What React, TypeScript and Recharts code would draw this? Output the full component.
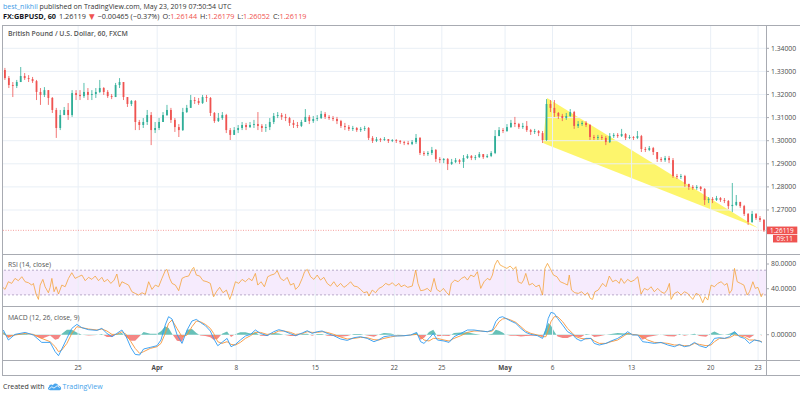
import React from "react";
import { ComposedChart, LineChart, Line, Bar, Area, XAxis, YAxis, ReferenceLine, ReferenceArea } from "recharts";

const FONT = "'Open Sans', 'Noto Sans', 'DejaVu Sans', sans-serif";
const UP = "#2fae98";
const DOWN = "#ef5350";
const GRID = "#e9eff6";
const BORDER = "#a8abb2";
const TEXT = "#4a4a4a";

// ---- price data: 6-hour candles, GBPUSD, from Mar 18 06:00 to May 23 08:00 ----
// time unit: trading days since Mar 18 00:00 (weekends removed)
const firstOpen = 1.3306;
const barsPerDay = 4;
const firstBarStart = 0.25;
const closes = [
  1.3271, 1.3241, 1.3237,
  1.3254, 1.3280, 1.3271, 1.3267,
  1.3258, 1.3211, 1.3198, 1.3219,
  1.3185, 1.3133, 1.3055, 1.3111,
  1.3133, 1.3111, 1.3206, 1.3198,
  1.3193, 1.3211, 1.3198, 1.3202,
  1.3211, 1.3228, 1.3211, 1.3193,
  1.3189, 1.3241, 1.3254, 1.3189,
  1.3159, 1.3172, 1.3081, 1.3068,
  1.3081, 1.3111, 1.3046, 1.3055,
  1.3081, 1.3111, 1.3133, 1.3090,
  1.3059, 1.3046, 1.3124, 1.3142,
  1.3176, 1.3172, 1.3163, 1.3189,
  1.3185, 1.3120, 1.3085, 1.3098,
  1.3111, 1.3046, 1.3025, 1.3046,
  1.3055, 1.3068, 1.3059, 1.3068,
  1.3072, 1.3064, 1.3055, 1.3059,
  1.3081, 1.3107, 1.3111, 1.3103,
  1.3098, 1.3077, 1.3068, 1.3064,
  1.3081, 1.3103, 1.3085, 1.3094,
  1.3098, 1.3116, 1.3103, 1.3098,
  1.3094, 1.3085, 1.3064, 1.3059,
  1.3051, 1.3055, 1.3046, 1.3051,
  1.3055, 1.3012, 1.2999, 1.3007,
  1.3003, 1.3007, 1.2999, 1.3003,
  1.2999, 1.2994, 1.2990, 1.2986,
  1.2994, 1.3012, 1.2947, 1.2942,
  1.2947, 1.2960, 1.2921, 1.2916,
  1.2921, 1.2899, 1.2908, 1.2916,
  1.2908, 1.2925, 1.2934, 1.2925,
  1.2929, 1.2942, 1.2929, 1.2934,
  1.2947, 1.3020, 1.3046, 1.3042,
  1.3059, 1.3077, 1.3072, 1.3059,
  1.3064, 1.3046, 1.3038, 1.3042,
  1.3033, 1.3003, 1.3159, 1.3142,
  1.3120, 1.3107, 1.3098, 1.3107,
  1.3124, 1.3064, 1.3072, 1.3077,
  1.3068, 1.3016, 1.3012, 1.3016,
  1.3012, 1.2994, 1.3020, 1.3025,
  1.3020, 1.3029, 1.3012, 1.3016,
  1.3012, 1.3020, 1.2964, 1.2960,
  1.2968, 1.2951, 1.2921, 1.2916,
  1.2925, 1.2916, 1.2847, 1.2843,
  1.2847, 1.2813, 1.2800, 1.2795,
  1.2800, 1.2791, 1.2743, 1.2748,
  1.2743, 1.2752, 1.2743, 1.2739,
  1.2717, 1.2722, 1.2735, 1.2717,
  1.2683, 1.2648, 1.2683, 1.2665,
  1.2657, 1.26119,
];
const highs = [
  1.3315, 1.3280, 1.3254,
  1.3263, 1.3319, 1.3293, 1.3284,
  1.3276, 1.3263, 1.3228, 1.3232,
  1.3219, 1.3189, 1.3142, 1.3133,
  1.3146, 1.3163, 1.3219, 1.3219,
  1.3219, 1.3250, 1.3228, 1.3219,
  1.3228, 1.3263, 1.3232, 1.3219,
  1.3202, 1.3250, 1.3271, 1.3254,
  1.3189, 1.3176, 1.3176, 1.3090,
  1.3098, 1.3133, 1.3124, 1.3081,
  1.3098, 1.3124, 1.3155, 1.3142,
  1.3098, 1.3072, 1.3142, 1.3155,
  1.3198, 1.3189, 1.3185, 1.3198,
  1.3198, 1.3189, 1.3124, 1.3120,
  1.3124, 1.3116, 1.3055, 1.3059,
  1.3068, 1.3081, 1.3077, 1.3081,
  1.3090, 1.3124, 1.3072, 1.3072,
  1.3098, 1.3120, 1.3124, 1.3120,
  1.3116, 1.3103, 1.3090, 1.3081,
  1.3090, 1.3137, 1.3111, 1.3107,
  1.3111, 1.3129, 1.3124, 1.3111,
  1.3107, 1.3103, 1.3090, 1.3077,
  1.3068, 1.3064, 1.3059, 1.3059,
  1.3064, 1.3059, 1.3020, 1.3016,
  1.3012, 1.3016, 1.3007, 1.3007,
  1.3007, 1.3003, 1.2999, 1.2999,
  1.3003, 1.3029, 1.3016, 1.2955,
  1.2955, 1.2973, 1.2964, 1.2929,
  1.2925, 1.2925, 1.2921, 1.2925,
  1.2921, 1.2938, 1.2942, 1.2938,
  1.2938, 1.2951, 1.2942, 1.2942,
  1.2955, 1.3046, 1.3059, 1.3055,
  1.3072, 1.3090, 1.3103, 1.3077,
  1.3077, 1.3085, 1.3051, 1.3051,
  1.3046, 1.3042, 1.3180, 1.3176,
  1.3176, 1.3124, 1.3116, 1.3120,
  1.3137, 1.3129, 1.3085, 1.3085,
  1.3085, 1.3072, 1.3025, 1.3025,
  1.3025, 1.3020, 1.3033, 1.3033,
  1.3033, 1.3051, 1.3033, 1.3025,
  1.3020, 1.3042, 1.3025, 1.2973,
  1.2977, 1.2973, 1.2951, 1.2929,
  1.2934, 1.2934, 1.2925, 1.2856,
  1.2856, 1.2852, 1.2813, 1.2808,
  1.2808, 1.2804, 1.2795, 1.2756,
  1.2756, 1.2761, 1.2756, 1.2752,
  1.2743, 1.2817, 1.2765, 1.2735,
  1.2722, 1.2687, 1.2696, 1.2687,
  1.2674, 1.2661,
];
const lows = [
  1.3263, 1.3228, 1.3189,
  1.3228, 1.3254, 1.3263, 1.3254,
  1.3250, 1.3176, 1.3155, 1.3189,
  1.3155, 1.3120, 1.3012, 1.3046,
  1.3111, 1.3090, 1.3103, 1.3176,
  1.3176, 1.3185, 1.3176, 1.3176,
  1.3185, 1.3206, 1.3198, 1.3185,
  1.3180, 1.3189, 1.3228, 1.3176,
  1.3146, 1.3150, 1.3046, 1.3046,
  1.3055, 1.3068, 1.2981, 1.3033,
  1.3046, 1.3081, 1.3107, 1.3077,
  1.3038, 1.3016, 1.3042, 1.3120,
  1.3142, 1.3159, 1.3155, 1.3159,
  1.3168, 1.3107, 1.3077, 1.3081,
  1.3090, 1.3033, 1.3003, 1.3025,
  1.3033, 1.3046, 1.3046, 1.3055,
  1.3055, 1.3046, 1.3038, 1.3038,
  1.3046, 1.3072, 1.3098, 1.3090,
  1.3085, 1.3064, 1.3055, 1.3055,
  1.3059, 1.3081, 1.3072, 1.3077,
  1.3085, 1.3094, 1.3094, 1.3090,
  1.3085, 1.3072, 1.3055, 1.3046,
  1.3042, 1.3042, 1.3038, 1.3038,
  1.3042, 1.3003, 1.2990, 1.2994,
  1.2994, 1.2999, 1.2990, 1.2994,
  1.2990, 1.2986, 1.2981, 1.2981,
  1.2981, 1.2986, 1.2938, 1.2934,
  1.2934, 1.2938, 1.2908, 1.2903,
  1.2903, 1.2873, 1.2895, 1.2903,
  1.2899, 1.2882, 1.2921, 1.2916,
  1.2916, 1.2925, 1.2921, 1.2925,
  1.2929, 1.2942, 1.3020, 1.3033,
  1.3038, 1.3055, 1.3059, 1.3051,
  1.3051, 1.3038, 1.3025, 1.3029,
  1.3020, 1.2990, 1.2999, 1.3124,
  1.3103, 1.3094, 1.3085, 1.3090,
  1.3103, 1.3051, 1.3055, 1.3064,
  1.3059, 1.3003, 1.3003, 1.3003,
  1.3003, 1.2981, 1.2990, 1.3012,
  1.3012, 1.3016, 1.3003, 1.3007,
  1.3003, 1.3007, 1.2951, 1.2951,
  1.2955, 1.2938, 1.2908, 1.2908,
  1.2908, 1.2903, 1.2839, 1.2834,
  1.2834, 1.2800, 1.2787, 1.2787,
  1.2787, 1.2782, 1.2722, 1.2730,
  1.2730, 1.2739, 1.2735, 1.2730,
  1.2704, 1.2691, 1.2717, 1.2709,
  1.2674, 1.2635, 1.2644, 1.2657,
  1.2648, 1.2605,
];
const lastPrice = 1.26119;
const countdown = "09:11";

const priceTicks = [1.27, 1.28, 1.29, 1.3, 1.31, 1.32, 1.33, 1.34];
const dayTicks = [5, 10, 15, 20, 25, 28, 32, 35, 40, 45, 48];
const dayLabels = ["25", "Apr", "8", "15", "22", "25", "May", "6", "13", "20", "23"];

// yellow wedge drawing: [time, lower, upper]
const wedgePoints: [number, number, number][] = [
  [34.41, 1.299, 1.299],
  [34.66, 1.2983, 1.3185],
  [48.0, 1.2622, 1.2622],
];

// RSI (14, close): [time, value]
const rsiSeries: [number, number][] = [
  [0.25, 42], [0.38, 38.9], [0.59, 51.3], [0.8, 48.6], [1.01, 56.7], [1.22, 53.0], [1.44, 59.4], [1.65, 51.3],
  [1.86, 49.7], [2.07, 45.9], [2.17, 48.6], [2.34, 31.4], [2.49, 22.7], [2.6, 45.9], [2.77, 55.1], [2.91, 43.2],
  [3.12, 33.5], [3.23, 42.2], [3.34, 56.7], [3.48, 35.1], [3.61, 43.2], [3.76, 31.4], [3.97, 45.9], [4.18, 43.2],
  [4.39, 56.7], [4.6, 65.9], [4.81, 56.7], [5.02, 59.4], [5.24, 62.1], [5.45, 53.0], [5.66, 58.4], [5.87, 55.1],
  [6.08, 60.5], [6.29, 53.0], [6.5, 58.4], [6.65, 51.3], [6.86, 55.1], [7.07, 48.6], [7.28, 54.0], [7.45, 63.8],
  [7.62, 43.2], [7.77, 51.3], [7.98, 48.6], [8.19, 45.9], [8.4, 35.1], [8.61, 32.4], [8.82, 29.7], [9.04, 33.5],
  [9.25, 30.8], [9.46, 51.3], [9.67, 38.9], [9.88, 45.9], [10.09, 43.2], [10.3, 56.7], [10.51, 69.2], [10.62, 71.3],
  [10.79, 56.7], [10.94, 48.6], [11.15, 45.9], [11.36, 36.8], [11.57, 56.7], [11.78, 59.4], [11.99, 60.5], [12.2, 71.3],
  [12.31, 74.6], [12.48, 62.1], [12.69, 60.5], [12.9, 53.0], [13.15, 51.3], [13.36, 48.6], [13.57, 27.0], [13.74, 35.1],
  [13.95, 42.2], [14.16, 33.5], [14.38, 37.8], [14.59, 22.7], [14.73, 32.4], [14.95, 51.3], [15.16, 48.6], [15.37, 55.1],
  [15.58, 51.3], [15.79, 56.7], [16.0, 53.0], [16.21, 64.8], [16.36, 45.9], [16.57, 51.3], [16.78, 43.2], [16.99, 59.4],
  [17.2, 62.1], [17.42, 63.8], [17.59, 69.2], [17.8, 56.7], [18.01, 53.0], [18.22, 58.4], [18.43, 45.9], [18.64, 48.6],
  [18.75, 38.9], [18.96, 44.3], [19.17, 56.7], [19.32, 67.5], [19.49, 71.3], [19.7, 59.4], [19.91, 55.1], [20.12, 62.1],
  [20.33, 54.0], [20.54, 58.4], [20.75, 48.6], [20.96, 44.3], [21.17, 51.3], [21.38, 43.2], [21.6, 48.6], [21.81, 42.2],
  [22.02, 45.9], [22.23, 51.3], [22.44, 44.3], [22.65, 43.2], [22.86, 38.9], [23.07, 33.5], [23.28, 35.1], [23.39, 28.1],
  [23.6, 37.8], [23.81, 33.5], [24.02, 40.5], [24.23, 43.2], [24.45, 48.6], [24.66, 45.9], [24.87, 49.7], [25.08, 44.3],
  [25.29, 48.6], [25.42, 43.2], [25.63, 45.9], [25.84, 42.2], [26.13, 44.3], [26.35, 70.2], [26.49, 48.6], [26.66, 36.8],
  [26.87, 37.8], [27.08, 40.5], [27.3, 35.1], [27.51, 56.7], [27.68, 38.9], [27.89, 35.1], [28.1, 40.5], [28.31, 33.5],
  [28.46, 29.7], [28.6, 48.6], [28.82, 54.0], [29.03, 51.3], [29.24, 56.7], [29.45, 59.4], [29.62, 54.0], [29.83, 62.1],
  [30.04, 59.4], [30.25, 67.5], [30.46, 40.5], [30.67, 51.3], [30.88, 56.7], [31.05, 54.0], [31.2, 62.1], [31.35, 78.3],
  [31.52, 86.4], [31.69, 78.3], [31.9, 75.6], [32.11, 72.9], [32.32, 76.7], [32.53, 71.3], [32.68, 75.6], [32.83, 51.3],
  [33.04, 48.6], [33.17, 54.0], [33.31, 64.8], [33.52, 45.9], [33.73, 48.6], [33.95, 43.2], [34.16, 45.9], [34.37, 29.7],
  [34.52, 72.9], [34.68, 81.0], [34.85, 72.9], [35.06, 62.1], [35.28, 59.4], [35.49, 51.3], [35.74, 48.6], [35.95, 45.9],
  [36.06, 62.1], [36.2, 37.8], [36.41, 33.5], [36.63, 32.4], [36.84, 35.1], [37.05, 29.7], [37.22, 33.5], [37.39, 24.3],
  [37.53, 22.7], [37.68, 35.1], [37.89, 37.8], [38.17, 48.6], [38.38, 43.2], [38.59, 60.5], [38.8, 51.3], [39.01, 54.0],
  [39.22, 48.6], [39.33, 56.7], [39.54, 48.6], [39.75, 55.1], [39.96, 51.3], [40.17, 54.0], [40.39, 59.4], [40.6, 31.4],
  [40.81, 40.5], [41.02, 37.8], [41.23, 43.2], [41.44, 35.1], [41.65, 40.5], [41.86, 35.1], [42.07, 32.4], [42.24, 37.8],
  [42.39, 48.6], [42.5, 22.7], [42.71, 32.4], [42.92, 35.1], [43.13, 29.7], [43.34, 35.1], [43.55, 32.4], [43.72, 27.0],
  [43.87, 22.7], [44.08, 32.4], [44.29, 29.7], [44.5, 17.3], [44.65, 27.0], [44.82, 21.6], [45.03, 45.9], [45.24, 43.2],
  [45.45, 48.6], [45.66, 51.3], [45.88, 45.9], [46.04, 48.6], [46.19, 32.4], [46.34, 37.8], [46.51, 72.9], [46.68, 51.3],
  [46.89, 48.6], [47.1, 45.9], [47.31, 29.7], [47.46, 35.1], [47.67, 51.3], [47.82, 40.5], [47.99, 42.2], [48.2, 27.0],
  [48.3, 32.4],
];
const rsiTicks = [40, 80];
const rsiUpper = 70;
const rsiLower = 30;

// MACD (12, 26, close, 9): [time, macd, signal]
const macdSeries: [number, number, number][] = [
  [0.27, 0.00047, 0.00013], [0.59, -0.00053, -0.0002], [1.01, 0.00003, -0.00003], [1.65, 0.00023, 0.00013],
  [2.17, -0.00003, 0.00003], [2.7, -0.00077, -0.00037], [3.23, -0.00077, -0.0007], [3.55, -0.0017, -0.0012],
  [3.76, -0.0021, -0.0017], [3.97, -0.00143, -0.00153], [4.29, -0.00037, -0.00087], [4.6, 0.00063, 0.00013],
  [4.92, 0.00103, 0.0008], [5.24, 0.0007, 0.0007], [5.66, 0.0005, 0.00057], [6.19, 0.00043, 0.00047],
  [6.5, 0.00063, 0.00057], [6.82, 0.00013, 0.00037], [7.14, -0.0002, 0.00003], [7.45, 0.00013, 0.00003],
  [7.77, 0.00047, 0.0003], [8.04, -0.0002, 0.00003], [8.34, -0.0013, -0.0007], [8.61, -0.00197, -0.00137],
  [8.89, -0.00203, -0.00187], [9.14, -0.00143, -0.0017], [9.56, -0.00127, -0.00137], [9.99, -0.0011, -0.0012],
  [10.24, -0.00053, -0.00087], [10.51, 0.00097, 0.00013], [10.72, 0.0018, 0.00113], [10.94, 0.00157, 0.00147],
  [11.25, 0.00003, 0.00063], [11.57, -0.00087, -0.0002], [11.89, 0.00047, -0.00003], [12.2, 0.00137, 0.0008],
  [12.48, 0.00153, 0.00137], [12.73, 0.00123, 0.0013], [13.05, 0.0009, 0.00103], [13.36, 0.00037, 0.00063],
  [13.57, -0.00037, 0.00013], [13.83, -0.0011, -0.0007], [14.1, -0.00077, -0.00087], [14.42, -0.00037, -0.0007],
  [14.67, -0.0012, -0.00097], [14.95, -0.00097, -0.00103], [15.26, -0.00053, -0.00077], [15.58, -0.00013, -0.00037],
  [15.9, 0.00003, -0.0001], [16.21, 0.00047, 0.00023], [16.53, 0.00013, 0.00023], [16.95, -0.0001, 0.00003],
  [17.37, 0.0003, 0.00013], [17.69, 0.0005, 0.00037], [18.01, 0.00037, 0.00037], [18.43, 0.0001, 0.00023],
  [18.75, -0.0001, 0.00003], [19.17, 0.00017, 0.0001], [19.49, 0.0004, 0.0003], [19.8, 0.00013, 0.00023],
  [20.12, 0.0003, 0.00023], [20.43, 0.00037, 0.0003], [20.75, 0.00013, 0.00023], [21.17, -0.0001, 0.00003],
  [21.6, -0.00043, -0.00023], [22.02, -0.00057, -0.00043], [22.44, -0.0003, -0.00037], [22.86, -0.0002, -0.00027],
  [23.28, -0.00037, -0.0003], [23.71, -0.0007, -0.0005], [24.02, -0.0005, -0.00053], [24.34, -0.0002, -0.00037],
  [24.76, -0.0001, -0.00023], [25.18, -0.00013, -0.0001], [25.61, -0.0001, -0.0001], [26.03, -0.00003, -0.00003],
  [26.41, 0.00023, 0.00003], [26.66, -0.0007, -0.0002], [26.87, -0.00087, -0.00053], [27.19, -0.00037, -0.00063],
  [27.46, 0.00013, -0.00037], [27.72, -0.00053, -0.00037], [28.14, -0.00063, -0.00053], [28.46, -0.00077, -0.00063],
  [28.77, -0.0002, -0.00037], [29.2, 0.00013, -0.0001], [29.62, 0.00047, 0.00023], [30.04, 0.00047, 0.00037],
  [30.46, 0.00037, 0.00037], [30.88, 0.0003, 0.0003], [31.2, 0.00047, 0.00037], [31.41, 0.0013, 0.0008],
  [31.62, 0.0017, 0.0013], [31.84, 0.0018, 0.00157], [32.05, 0.00163, 0.00163], [32.36, 0.00137, 0.00147],
  [32.68, 0.00113, 0.00123], [33.0, 0.00063, 0.0008], [33.31, 0.00023, 0.00037], [33.63, 0.00003, 0.00013],
  [34.05, -0.0001, -0.00003], [34.37, -0.00037, -0.0002], [34.58, 0.00047, -0.0002], [34.73, 0.00163, 0.00047],
  [34.9, 0.00223, 0.0013], [35.11, 0.00213, 0.0018], [35.32, 0.00163, 0.0018], [35.64, 0.00097, 0.0013],
  [35.95, 0.0003, 0.00063], [36.27, 0.00003, 0.00013], [36.48, -0.00037, -0.0002], [36.8, -0.00063, -0.00037],
  [37.11, -0.00037, -0.00043], [37.43, -0.00037, -0.00037], [37.64, -0.00087, -0.00063], [37.96, -0.00103, -0.00087],
  [38.38, -0.00087, -0.00087], [38.7, -0.00063, -0.0007], [39.12, -0.00037, -0.00053], [39.54, 0.00003, -0.0001],
  [39.75, 0.0003, 0.00013], [40.07, -0.00003, 0.00003], [40.39, -0.00003, -0.00003], [40.7, -0.0007, -0.0002],
  [41.02, -0.00077, -0.00053], [41.44, -0.00087, -0.00077], [41.86, -0.00077, -0.0008], [42.29, -0.00103, -0.00087],
  [42.71, -0.0012, -0.00103], [43.02, -0.00097, -0.00103], [43.34, -0.0012, -0.0011], [43.66, -0.0011, -0.0011],
  [43.98, -0.00077, -0.00087], [44.29, -0.0011, -0.00097], [44.71, -0.0013, -0.0011], [45.03, -0.00087, -0.00103],
  [45.24, -0.00037, -0.0007], [45.56, -0.0003, -0.00037], [45.88, -0.00037, -0.00037], [46.19, -0.0002, -0.0003],
  [46.51, 0.0003, -0.00003], [46.82, -0.0002, -0.0001], [47.14, -0.00037, -0.00023], [47.46, -0.00087, -0.00053],
  [47.77, -0.00053, -0.00053], [48.09, -0.00063, -0.00063], [48.24, -0.00077, -0.0007],
];
const macdTicks = [0];

// ---- tables for the library ----
const candles = closes.map((c, i) => {
  const o = i === 0 ? firstOpen : closes[i - 1];
  return { t: firstBarStart + (i + 0.5) / barsPerDay, o, c, h: highs[i], l: lows[i], range: [lows[i], highs[i]] };
});
const wedgeData = wedgePoints.map(([t, lo, hi]) => ({ t, band: [lo, hi] }));
const rsiData = rsiSeries.map(([t, v]) => ({ t, v }));
const macdData = macdSeries.map(([t, m, s]) => ({ t, macd: m, signal: s, hist: m - s }));
const histMax = Math.max(...macdData.map((d) => d.hist));
const histMin = Math.min(...macdData.map((d) => d.hist));
const histOff = histMax / (histMax - histMin);

const X_DOMAIN: [number, number] = [0.25, 48.5];
const PRICE_DOMAIN: [number, number] = [1.250952, 1.349654];
const RSI_DOMAIN: [number, number] = [12.0, 94.6];
const MACD_DOMAIN: [number, number] = [-0.00253, 0.00277];

const CHART_W = 797;
const AXIS_W = 34;
const axisTick = { fontSize: 6.8, fill: TEXT, fontFamily: FONT };

const Candle = (props: any) => {
  const { x, y, width, height, payload } = props;
  if (!payload || height == null || isNaN(y)) return null;
  const top = Math.min(y, y + height);
  const h = Math.abs(height);
  const span = payload.h - payload.l;
  const k = span > 0 ? h / span : 0;
  const yo = top + (payload.h - payload.o) * k;
  const yc = top + (payload.h - payload.c) * k;
  const color = payload.c >= payload.o ? UP : DOWN;
  const cx = x + width / 2;
  const bw = 1.8;
  return (
    <g>
      <line x1={cx} x2={cx} y1={top} y2={top + h} stroke={color} strokeWidth={0.8} />
      <rect x={cx - bw / 2} y={Math.min(yo, yc)} width={bw} height={Math.max(0.8, Math.abs(yc - yo))} fill={color} />
    </g>
  );
};

const LastLabel = (props: any) => {
  const vb = props.viewBox;
  if (!vb) return null;
  const x = vb.x + vb.width;
  const y = vb.y;
  return (
    <g fontFamily={FONT}>
      <rect x={x + 0.8} y={y - 3.8} width={30.5} height={7.6} fill={DOWN} />
      <text x={x + 4} y={y} dy="0.35em" fontSize={6.4} fill="#fff">{lastPrice.toFixed(5)}</text>
      <rect x={x + 7} y={y + 4.5} width={24.3} height={7.6} fill={DOWN} />
      <text x={x + 10.5} y={y + 8.3} dy="0.35em" fontSize={6.4} fill="#fff">{countdown}</text>
    </g>
  );
};

const DayTick = (props: any) => {
  const { x, y, payload } = props;
  const idx = dayTicks.indexOf(payload.value);
  const label = idx >= 0 ? dayLabels[idx] : "";
  const bold = label === "Apr" || label === "May";
  return (
    <text x={x} y={y} dy="0.71em" textAnchor="middle" fontSize={6.4} fontWeight={bold ? 700 : 400} fill={TEXT} fontFamily={FONT}>
      {label}
    </text>
  );
};

const hLine = (top: number, left = 2, width = 798) => (
  <div style={{ position: "absolute", left, top, width, height: 1, background: BORDER }} />
);

const gap = { marginLeft: 3 };

export default function App() {
  return (
    <div style={{ position: "absolute", left: 0, top: 0, width: 800, height: 396, background: "#fff", fontFamily: FONT, overflow: "hidden" }}>
      {/* header */}
      <div style={{ position: "absolute", left: 3, top: 1.5, fontSize: 7, lineHeight: "9px", color: "#333", whiteSpace: "nowrap" }}>
        <span style={{ color: "#3d9be6" }}>best_nikhil</span> published on TradingView.com, May 23, 2019 07:50:54 UTC
      </div>
      <div style={{ position: "absolute", left: 3, top: 11.5, fontSize: 7.3, lineHeight: "9px", color: "#333", whiteSpace: "nowrap" }}>
        <b style={{ color: "#131722" }}>FX:GBPUSD, 60</b>
        <span style={gap}>1.26119</span>
        <span style={{ color: DOWN, marginLeft: 3 }}>▼</span>
        <span style={gap}>−0.00465 (−0.37%)</span>
        <span style={gap}>O:</span><span style={{ color: DOWN }}>1.26144</span>
        <span style={gap}>H:</span><span style={{ color: DOWN }}>1.26179</span>
        <span style={gap}>L:</span><span style={{ color: DOWN }}>1.26052</span>
        <span style={gap}>C:</span><span style={{ color: DOWN }}>1.26119</span>
      </div>

      {/* price panel: grid, wedge, last price line */}
      <div style={{ position: "absolute", left: 3, top: 26 }}>
        <ComposedChart width={CHART_W} height={228} margin={{ top: 0, right: AXIS_W, bottom: 0, left: 0 }}>
          <XAxis type="number" dataKey="t" domain={X_DOMAIN} hide allowDataOverflow />
          <YAxis type="number" domain={PRICE_DOMAIN} hide allowDataOverflow />
          {priceTicks.map((p) => (
            <ReferenceLine key={"hp" + p} y={p} stroke={GRID} strokeWidth={1} />
          ))}
          {dayTicks.map((d) => (
            <ReferenceLine key={"vp" + d} x={d} stroke={GRID} strokeWidth={1} />
          ))}
          <Area data={wedgeData} dataKey="band" type="linear" stroke="none" fill="#fdf45c" fillOpacity={0.9} isAnimationActive={false} />
          <ReferenceLine y={lastPrice} stroke={DOWN} strokeOpacity={0.55} strokeDasharray="1 1.5" label={<LastLabel />} />
        </ComposedChart>
      </div>
      {/* price panel: candles + price axis */}
      <div style={{ position: "absolute", left: 3, top: 26 }}>
        <ComposedChart width={CHART_W} height={228} data={candles} margin={{ top: 0, right: 0, bottom: 0, left: 0 }}>
          <XAxis dataKey="t" type="category" hide />
          <YAxis
            orientation="right"
            width={AXIS_W}
            type="number"
            domain={PRICE_DOMAIN}
            allowDataOverflow
            ticks={priceTicks}
            interval={0}
            tickFormatter={(v: number) => v.toFixed(5)}
            tick={axisTick}
            tickSize={3}
            tickMargin={2}
            axisLine={false}
            tickLine={{ stroke: BORDER }}
          />
          <Bar dataKey="range" isAnimationActive={false} shape={(p: any) => <Candle {...p} />} />
        </ComposedChart>
      </div>

      {/* RSI panel */}
      <div style={{ position: "absolute", left: 3, top: 255 }}>
        <LineChart width={CHART_W} height={51} data={rsiData} margin={{ top: 0, right: 0, bottom: 0, left: 0 }}>
          <XAxis type="number" dataKey="t" domain={X_DOMAIN} hide allowDataOverflow />
          <YAxis
            orientation="right"
            width={AXIS_W}
            type="number"
            domain={RSI_DOMAIN}
            allowDataOverflow
            ticks={rsiTicks}
            interval={0}
            tickFormatter={(v: number) => v.toFixed(4)}
            tick={axisTick}
            tickSize={3}
            tickMargin={2}
            axisLine={false}
            tickLine={{ stroke: BORDER }}
          />
          <ReferenceArea y1={rsiLower} y2={rsiUpper} fill="#9b1fe8" fillOpacity={0.09} stroke="none" />
          {dayTicks.map((d) => (
            <ReferenceLine key={"vr" + d} x={d} stroke={GRID} strokeWidth={1} />
          ))}
          <ReferenceLine y={rsiUpper} stroke="#b9aacb" strokeDasharray="2 2" />
          <ReferenceLine y={rsiLower} stroke="#b9aacb" strokeDasharray="2 2" />
          <Line dataKey="v" type="linear" stroke="#f5a33a" strokeWidth={0.8} dot={false} isAnimationActive={false} />
        </LineChart>
      </div>

      {/* MACD panel + time axis */}
      <div style={{ position: "absolute", left: 3, top: 307 }}>
        <ComposedChart width={CHART_W} height={68} data={macdData} margin={{ top: 0, right: 0, bottom: 0, left: 0 }}>
          <defs>
            <linearGradient id="histGrad" x1="0" y1="0" x2="0" y2="1">
              <stop offset={histOff} stopColor="#26a69a" />
              <stop offset={histOff} stopColor="#ef5350" />
            </linearGradient>
          </defs>
          <XAxis
            type="number"
            dataKey="t"
            domain={X_DOMAIN}
            allowDataOverflow
            ticks={dayTicks}
            interval={0}
            height={15}
            tick={<DayTick />}
            tickSize={3}
            tickMargin={2}
            axisLine={false}
            tickLine={false}
          />
          <YAxis
            orientation="right"
            width={AXIS_W}
            type="number"
            domain={MACD_DOMAIN}
            allowDataOverflow
            ticks={macdTicks}
            interval={0}
            tickFormatter={(v: number) => v.toFixed(5)}
            tick={axisTick}
            tickSize={3}
            tickMargin={2}
            axisLine={false}
            tickLine={{ stroke: BORDER }}
          />
          {dayTicks.map((d) => (
            <ReferenceLine key={"vm" + d} x={d} stroke={GRID} strokeWidth={1} />
          ))}
          <Area dataKey="hist" type="linear" baseValue={0} stroke="none" fill="url(#histGrad)" fillOpacity={0.7} isAnimationActive={false} />
          <Line dataKey="signal" type="linear" stroke="#f7943a" strokeWidth={0.9} dot={false} isAnimationActive={false} />
          <Line dataKey="macd" type="linear" stroke="#2f9bf2" strokeWidth={0.9} dot={false} isAnimationActive={false} />
        </ComposedChart>
      </div>

      {/* frame */}
      {hLine(25)}
      {hLine(254)}
      {hLine(306)}
      {hLine(360)}
      {hLine(375)}
      <div style={{ position: "absolute", left: 2, top: 25, width: 1, height: 351, background: BORDER }} />
      <div style={{ position: "absolute", left: 766, top: 25, width: 1, height: 351, background: BORDER }} />

      {/* pane titles */}
      <div style={{ position: "absolute", left: 8, top: 28.5, fontSize: 6.9, lineHeight: "9px", color: "#555", fontWeight: 600, whiteSpace: "nowrap" }}>
        British Pound / U.S. Dollar, 60, FXCM
      </div>
      <div style={{ position: "absolute", left: 8, top: 259.5, fontSize: 6.8, lineHeight: "9px", color: "#555", whiteSpace: "nowrap" }}>
        RSI (14, close)
      </div>
      <div style={{ position: "absolute", left: 8, top: 313, fontSize: 6.8, lineHeight: "9px", color: "#555", whiteSpace: "nowrap" }}>
        MACD (12, 26, close, 9)
      </div>

      {/* footer */}
      <div style={{ position: "absolute", left: 3, top: 381.5, fontSize: 7, lineHeight: "9px", color: "#333", whiteSpace: "nowrap", display: "flex", alignItems: "center" }}>
        <span>Created with</span>
        <svg width={15} height={9} viewBox="0 0 28 16" style={{ margin: "0 1px 0 2px" }}>
          <path d="M6 15 C1.5 15 0.5 10 4 8.5 C3.5 4.5 8.5 3 11 5.5 C13 1.5 20 1.5 21 6.5 C25 6.5 27.5 10 26 13 C25.5 14.5 24 15 22.5 15 Z" fill="#4aa6ee" />
          <path d="M4 12.5 L9 8.5 L13 11 L19 6.5 L24 10" fill="none" stroke="#ffffff" strokeWidth={1.6} />
        </svg>
        <span style={{ color: "#45a3ea" }}>TradingView</span>
      </div>
    </div>
  );
}
